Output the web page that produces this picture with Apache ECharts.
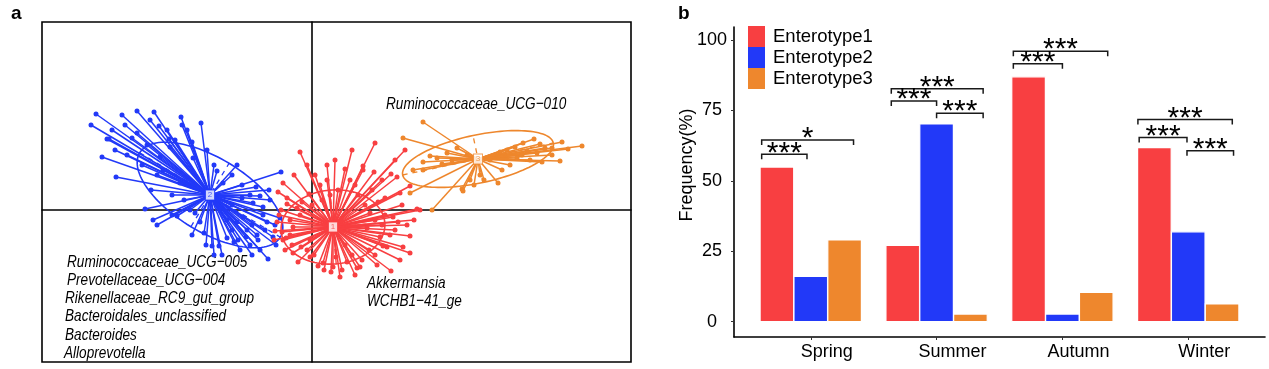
<!DOCTYPE html>
<html><head><meta charset="utf-8">
<script src="https://cdn.jsdelivr.net/npm/echarts@6/dist/echarts.min.js"></script>
<style>html,body{margin:0;padding:0;background:#fff}#c{width:1269px;height:369px}</style>
</head><body><div id="c"></div>
<script>
// ---------- Panel b data ----------
const seasons = ['Spring', 'Summer', 'Autumn', 'Winter'];
const enterotypeNames = ['Enterotype1', 'Enterotype2', 'Enterotype3'];
const enterotype1 = [54.9, 27.1, 86.9, 61.8];
const enterotype2 = [16.1, 70.2, 2.7, 31.9];
const enterotype3 = [29.0, 2.7, 10.4, 6.3];
const yTicks = [0, 25, 50, 75, 100];
// significance brackets: [season (1-4), from offset, to offset, height (%), label]
const brackets = [
  [1, -0.39, -0.03, 59.4, '***'],
  [1, -0.39, 0.34, 64.5, '*'],
  [2, -0.36, 0.37, 82.7, '***'],
  [2, -0.36, 0.00, 78.3, '***'],
  [2, 0.00, 0.37, 74.0, '***'],
  [3, -0.39, 0.36, 96.0, '***'],
  [3, -0.39, 0.00, 91.6, '***'],
  [4, -0.40, 0.35, 71.8, '***'],
  [4, -0.39, -0.01, 65.4, '***'],
  [4, -0.01, 0.36, 60.7, '***']
];

// ---------- Panel a data ----------
const centroid1 = [0.21, -0.17];
const centroid2 = [-1.02, 0.15];
const centroid3 = [1.66, 0.51];
// ellipse: [semi-axis a, semi-axis b, angle (deg)]
const ellipse1 = [0.52, 0.37, 5];
const ellipse2 = [0.82, 0.37, -31];
const ellipse3 = [0.77, 0.24, 12];
const cluster1Points = [
  [-0.12,0.58],[0.63,0.67],[0.93,0.60],[0.33,0.41],[0.51,0.40],[-0.29,0.27],[-0.03,0.16],[0.85,0.33],
  [0.88,0.17],[0.73,0.12],[-0.25,0.12],[-0.31,0.00],[1.05,0.01],[0.58,-0.03],[-0.19,-0.17],[0.55,-0.18],
  [0.68,-0.27],[0.91,-0.37],[0.75,-0.37],[-0.29,-0.30],[-0.19,-0.43],[0.11,-0.53],[0.48,-0.57],[0.35,-0.52],
  [-0.02,-0.47],[0.21,-0.57],[-0.37,-0.21],[0.06,-0.56],[0.45,-0.58],[0.79,-0.61],[0.98,-0.43],[1.08,0.00],
  [0.81,-0.07],[0.51,0.44],[0.79,0.36],[0.98,0.24],[-0.25,0.06],[-0.11,-0.37],[0.24,-0.47],[0.71,-0.36],
  [0.98,-0.26],[0.08,0.25],[0.43,0.25],[-0.12,-0.05],[-0.22,-0.25],[0.63,-0.45],[0.33,-0.35],[-0.02,-0.30],
  [0.83,-0.20],[0.18,0.15],[0.63,-0.10],[0.83,0.50],[0.23,0.50],[0.03,0.35],[0.60,0.20],[-0.22,-0.10],
  [0.43,-0.65],[0.28,-0.67],[-0.14,-0.52],[-0.27,-0.40],
  [-0.35,-0.12],[-0.33,-0.05],[-0.30,-0.22],[-0.26,-0.28],[-0.20,-0.35],[-0.15,0.02],[-0.10,0.08],[-0.05,-0.40],
  [0.00,0.05],[0.02,-0.45],[0.10,0.10],[0.12,-0.60],[0.15,0.30],[0.19,-0.62],[0.26,0.20],[0.30,-0.60],
  [0.38,0.30],[0.40,-0.45],[0.46,0.15],[0.50,-0.50],[0.53,0.05],[0.57,-0.40],[0.66,0.08],[0.70,-0.15],
  [0.73,-0.05],[0.78,-0.25],[0.86,-0.12],[0.90,0.05],[0.95,-0.15],[1.02,-0.10],[0.70,0.30],[0.62,0.38],
  [0.40,0.60],[0.15,0.45],[-0.05,0.45],[-0.18,0.35],[-0.34,0.18],[-0.38,-0.30],[0.65,-0.55],[0.88,-0.50]
];
const cluster2Points = [
  [-2.16,0.96],[-1.75,0.99],[-2.21,0.85],[-2.05,0.71],[-1.75,0.77],[-1.53,0.84],[-1.31,0.93],[-1.11,0.87],
  [-1.43,0.71],[-2.10,0.53],[-1.96,0.33],[-1.61,0.20],[-1.67,0.01],[-1.59,-0.10],[-1.35,-0.06],[-1.08,-0.23],
  [-1.00,-0.36],[-0.93,-0.36],[-0.74,-0.30],[-0.31,0.38],[-0.43,0.20],[-0.49,0.03],[-0.49,-0.05],[-0.39,-0.27],
  [-0.44,-0.49],[-0.95,0.39],[-0.89,0.27],[-0.56,0.23],[-0.52,0.14],[-0.59,0.07],[-0.69,-0.07],[-0.65,-0.20],
  [-0.80,-0.20],[-0.85,-0.10],[-1.22,0.00],[-1.17,-0.03],[-1.52,0.53],[-1.42,0.63],[-1.25,0.80],[-1.80,0.72],
  [-1.49,0.40],[-1.19,0.52],[-1.32,0.27],[-2.03,0.71],[-0.37,-0.15],[-0.47,-0.20],[-0.54,-0.30],[-0.62,-0.35],
  [-0.32,-0.08],[-0.42,0.10],[-1.87,0.85],[-1.62,0.90],[-1.37,0.70],[-1.97,0.60],
  [-0.80,0.05],[-0.75,-0.12],[-0.70,0.12],[-0.60,-0.15],[-0.55,-0.25],[-0.66,-0.27],[-0.72,-0.40],[-0.78,-0.32],
  [-0.85,-0.28],[-0.90,-0.45],[-0.98,-0.45],[-1.06,-0.35],[-1.12,-0.12],[-1.28,0.10],[-1.40,0.15],[-1.55,0.35],
  [-1.70,0.45],[-1.85,0.55],[-1.65,0.65],[-1.45,0.80],[-1.20,0.68],[-1.05,0.60],[-0.98,0.45],[-0.80,0.35],
  [-0.70,0.25],[-0.62,0.15],[-0.45,-0.12],[-0.52,-0.40],[-0.60,-0.45],[-0.36,-0.35],[-1.40,-0.05],[-1.55,-0.15],
  [-1.20,-0.25],[-0.75,0.45],[-2.00,0.80],[-1.90,0.95],[-1.58,0.98],[-1.30,0.85]
];
const cluster3Points = [
  [1.11,0.88],[0.91,0.72],[2.22,0.71],[2.50,0.68],[2.70,0.64],[2.48,0.49],[2.40,0.55],[2.25,0.57],
  [2.11,0.67],[1.18,0.54],[1.11,0.48],[1.30,0.46],[1.11,0.40],[1.50,0.21],[1.86,0.27],[2.03,0.63],
  [2.15,0.59],[1.88,0.58],[1.35,0.57],[1.01,0.40],[1.20,0.00],[0.98,0.17],[1.51,0.19],[2.33,0.62],
  [2.18,0.50],[1.98,0.45],[1.58,0.30],[1.68,0.35],
  [2.05,0.52],[2.28,0.66],[2.40,0.62],[1.95,0.60],[2.10,0.55],[2.56,0.61],[1.25,0.52],[1.40,0.50],
  [1.45,0.62],[1.55,0.55],[1.78,0.50],[1.90,0.40],[2.30,0.48],[1.62,0.25],[1.72,0.30]
];
const taxaTop = ['Ruminococcaceae_UCG\u2212010'];
const taxaLeft = ['Ruminococcaceae_UCG\u2212005', 'Prevotellaceae_UCG\u2212004', 'Rikenellaceae_RC9_gut_group',
  'Bacteroidales_unclassified', 'Bacteroides', 'Alloprevotella'];
const taxaRight = ['Akkermansia', 'WCHB1\u221241_ge'];

// ---------- styling ----------
const RED = '#F83F41', BLUE = '#2239F8', ORANGE = '#EE872D';
const barColors = [RED, BLUE, ORANGE];
const SANS = '"Liberation Sans", Arial, Helvetica, sans-serif';
const TAXA_FONT = 'italic 17px "Liberation Sans", Arial, sans-serif';
const NARROW_SCALE = 0.80;

const chart = echarts.init(document.getElementById('c'), null, {renderer: 'canvas'});

function clusterSeries(name, color, centroid, pts, ell, z) {
  return [
    {
      type: 'lines', coordinateSystem: 'cartesian2d', xAxisIndex: 0, yAxisIndex: 0, silent: true, z: z,
      data: pts.map(p => ({coords: [centroid, p]})),
      lineStyle: {color: color, width: 1.5, opacity: 1}
    },
    {
      type: 'scatter', xAxisIndex: 0, yAxisIndex: 0, silent: true, z: z,
      data: pts, symbolSize: 5, itemStyle: {color: color, opacity: 1}
    },
    {
      type: 'custom', xAxisIndex: 0, yAxisIndex: 0, silent: true, z: z,
      data: [[centroid[0], centroid[1], ell[0], ell[1], ell[2]]],
      renderItem: function (params, api) {
        const cx = api.value(0), cy = api.value(1), a = api.value(2), b = api.value(3);
        const ang = api.value(4) * Math.PI / 180;
        const at = (ex, ey) => api.coord([cx + ex * Math.cos(ang) - ey * Math.sin(ang),
                                          cy + ex * Math.sin(ang) + ey * Math.cos(ang)]);
        const ptsE = [];
        for (let k = 0; k <= 120; k++) {
          const t = k / 120 * 2 * Math.PI;
          ptsE.push(at(a * Math.cos(t), b * Math.sin(t)));
        }
        const pa0 = at(-a, 0), pa1 = at(a, 0), pb0 = at(0, -b), pb1 = at(0, b);
        return {type: 'group', children: [
          {type: 'polyline', shape: {points: ptsE}, style: {stroke: color, lineWidth: 1.6, fill: null}},
          {type: 'line', shape: {x1: pa0[0], y1: pa0[1], x2: pa1[0], y2: pa1[1]}, style: {stroke: color, lineWidth: 1.3, lineDash: [5, 5]}},
          {type: 'line', shape: {x1: pb0[0], y1: pb0[1], x2: pb1[0], y2: pb1[1]}, style: {stroke: color, lineWidth: 1.3, lineDash: [5, 5]}}
        ]};
      }
    },
    {
      type: 'scatter', xAxisIndex: 0, yAxisIndex: 0, silent: true, z: z + 5,
      data: [centroid], symbol: 'rect', symbolSize: [9, 10],
      itemStyle: {color: '#fff', borderColor: color, borderWidth: 1},
      label: {show: true, position: 'inside', formatter: name, color: color, fontSize: 8, fontFamily: SANS}
    }
  ];
}

function barSeries(idx, values, offset) {
  return {
    name: enterotypeNames[idx], type: 'custom', xAxisIndex: 1, yAxisIndex: 1,
    itemStyle: {color: barColors[idx]},
    data: values.map((v, i) => [i + 1, v]),
    encode: {x: 0, y: 1},
    renderItem: function (params, api) {
      const x = api.value(0) + offset, v = api.value(1);
      const top = api.coord([x, v]), base = api.coord([x, 0]);
      const w = api.size([0.267, 0])[0];
      return {type: 'rect', shape: {x: top[0] - w / 2, y: top[1], width: w, height: base[1] - top[1]},
        style: {fill: barColors[idx], stroke: '#fff', lineWidth: 1.2}};
    }
  };
}

const bracketSeries = {
  type: 'custom', xAxisIndex: 1, yAxisIndex: 1, silent: true, z: 5,
  data: brackets.map(b => [b[0], b[1], b[2], b[3]]),
  renderItem: function (params, api) {
    const c = api.value(0), y = api.value(3);
    const p0 = api.coord([c + api.value(1), y]), p1 = api.coord([c + api.value(2), y]);
    const tip = 5;
    return {type: 'group', children: [
      {type: 'polyline', shape: {points: [[p0[0], p0[1] + tip], [p0[0], p0[1]], [p1[0], p1[1]], [p1[0], p1[1] + tip]]},
        style: {stroke: '#1a1a1a', lineWidth: 1.5, fill: null}},
      {type: 'text', x: (p0[0] + p1[0]) / 2, y: p0[1] + 14,
        style: {text: brackets[params.dataIndex][4], fill: '#000', font: '30px ' + SANS, align: 'center', verticalAlign: 'bottom'}}
    ]};
  }
};

const graphics = [
  {type: 'text', x: 11, y: 23, style: {text: 'a', font: 'bold 19px ' + SANS, fill: '#000', verticalAlign: 'bottom'}},
  {type: 'text', x: 678, y: 23, style: {text: 'b', font: 'bold 19px ' + SANS, fill: '#000', verticalAlign: 'bottom'}},
  {type: 'text', x: 386, y: 104, scaleX: NARROW_SCALE, style: {text: taxaTop[0], font: TAXA_FONT, fill: '#000', verticalAlign: 'middle'}}
];
const leftX = [67, 67, 65, 65, 65, 64];
taxaLeft.forEach((t, i) => graphics.push({type: 'text', x: leftX[i], y: 262 + i * 18.2, scaleX: NARROW_SCALE,
  style: {text: t, font: TAXA_FONT, fill: '#000', verticalAlign: 'middle'}}));
taxaRight.forEach((t, i) => graphics.push({type: 'text', x: 367, y: 283 + i * 18.2, scaleX: NARROW_SCALE,
  style: {text: t, font: TAXA_FONT, fill: '#000', verticalAlign: 'middle'}}));

const option = {
  backgroundColor: '#fff',
  animation: false,
  textStyle: {fontFamily: SANS},
  grid: [
    {left: 42, top: 22, width: 589, height: 340, show: true, borderColor: '#000', borderWidth: 1.6, backgroundColor: 'transparent'},
    {left: 734, top: 27, right: 4, bottom: 32}
  ],
  xAxis: [
    {gridIndex: 0, type: 'value', min: -2.70, max: 3.19,
      axisLine: {show: true, onZero: true, lineStyle: {color: '#000', width: 1.6}},
      axisTick: {show: false}, axisLabel: {show: false}, splitLine: {show: false}},
    {gridIndex: 1, type: 'value', min: 0.39, max: 4.61,
      axisLine: {show: true, onZero: false, lineStyle: {color: '#000', width: 1.6}},
      axisTick: {show: true, customValues: [1, 2, 3, 4], length: 3, lineStyle: {color: '#333'}},
      axisLabel: {show: true, customValues: [1, 2, 3, 4], formatter: v => seasons[Math.round(v) - 1],
        fontSize: 18, color: '#000', margin: 6, padding: [0, 0, 0, 32], fontFamily: SANS},
      splitLine: {show: false}}
  ],
  yAxis: [
    {gridIndex: 0, type: 'value', min: -1.52, max: 1.88,
      axisLine: {show: true, onZero: true, lineStyle: {color: '#000', width: 1.6}},
      axisTick: {show: false}, axisLabel: {show: false}, splitLine: {show: false}},
    {gridIndex: 1, type: 'value', min: -5.43, max: 104.6,
      axisLine: {show: true, onZero: false, lineStyle: {color: '#000', width: 1.6}},
      axisTick: {show: true, customValues: yTicks, length: 3, lineStyle: {color: '#333'}},
      axisLabel: {show: true, customValues: yTicks, align: 'center', margin: 22, fontSize: 18, color: '#000', fontFamily: SANS},
      splitLine: {show: false},
      name: 'Frequency(%)', nameLocation: 'middle', nameGap: 38, nameMoveOverlap: false,
      nameTextStyle: {fontSize: 18, color: '#000', fontFamily: SANS, padding: [0, 0, 0, 34]}}
  ],
  legend: {
    orient: 'vertical', left: 748, top: 26, padding: 0, itemGap: 0, itemWidth: 17, itemHeight: 21,
    icon: 'rect', data: enterotypeNames, selectedMode: false,
    textStyle: {fontSize: 18.5, color: '#000', fontFamily: SANS, padding: [0, 0, 0, 3]}
  },
  graphic: graphics,
  series: [
    ...clusterSeries('2', BLUE, centroid2, cluster2Points, ellipse2, 2),
    ...clusterSeries('1', RED, centroid1, cluster1Points, ellipse1, 3),
    ...clusterSeries('3', ORANGE, centroid3, cluster3Points, ellipse3, 4),
    barSeries(0, enterotype1, -0.269),
    barSeries(1, enterotype2, 0),
    barSeries(2, enterotype3, 0.269),
    bracketSeries
  ]
};
chart.setOption(option);
</script></body></html>
